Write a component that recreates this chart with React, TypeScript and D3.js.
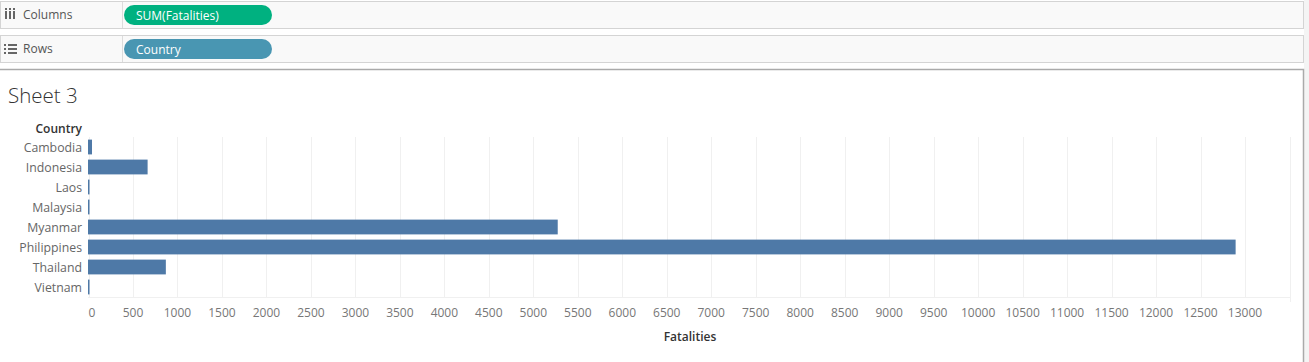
import React from 'react';
import * as d3 from 'd3';

// Data
const countries = ['Cambodia', 'Indonesia', 'Laos', 'Malaysia', 'Myanmar', 'Philippines', 'Thailand', 'Vietnam'];
const fatalities = [45, 670, 10, 6, 5280, 12900, 875, 8];
const xTicks = d3.range(0, 13001, 500);

const BAR = '#4e79a7';
const GRID = '#f0f0f0';

const App = () => {
  const ref = React.useRef<SVGSVGElement>(null);

  React.useEffect(() => {
    const height = 362;
    const svg = d3.select(ref.current);
    svg.selectAll('*').remove();

    const font = '"Open Sans", "Noto Sans", sans-serif';

    // Shelves at the top
    const shelves = [
      { y: 1, label: 'Columns', pill: 'SUM(Fatalities)', color: '#00b180', icon: 'cols' },
      { y: 35, label: 'Rows', pill: 'Country', color: '#4996b2', icon: 'rows' },
    ];
    const shelf = svg.append('g').selectAll('g').data(shelves).join('g')
      .attr('transform', d => `translate(0,${d.y})`);
    shelf.append('rect')
      .attr('x', 0.5).attr('y', 0.5).attr('width', 1303).attr('height', 27)
      .attr('fill', '#f9f9f9').attr('stroke', '#d4d4d4');
    shelf.append('line')
      .attr('x1', 122.5).attr('x2', 122.5).attr('y1', 1).attr('y2', 27)
      .attr('stroke', '#dcdcdc');
    shelf.append('text')
      .attr('x', 23).attr('y', 18)
      .attr('font-family', font).attr('font-size', 12).attr('fill', '#555')
      .text(d => d.label);
    shelf.append('rect')
      .attr('x', 124).attr('y', 4).attr('width', 148).attr('height', 20).attr('rx', 10)
      .attr('fill', d => d.color);
    shelf.append('text')
      .attr('x', 136).attr('y', 18.5)
      .attr('font-family', font).attr('font-size', 12).attr('fill', '#fff')
      .text(d => d.pill);
    // icons
    const colsIcon = shelf.filter(d => d.icon === 'cols');
    colsIcon.selectAll('rect.ic').data([0, 1, 2]).join('rect')
      .attr('class', 'ic')
      .attr('x', i => 5 + i * 4).attr('y', 10).attr('width', 2).attr('height', 8)
      .attr('fill', '#666');
    colsIcon.selectAll('rect.dot').data([0, 1, 2]).join('rect')
      .attr('class', 'dot')
      .attr('x', i => 5 + i * 4).attr('y', 7).attr('width', 2).attr('height', 2)
      .attr('fill', '#666');
    const rowsIcon = shelf.filter(d => d.icon === 'rows');
    rowsIcon.selectAll('rect.b').data([0, 1, 2]).join('rect')
      .attr('class', 'b')
      .attr('x', 4).attr('y', i => 9 + i * 4).attr('width', 2).attr('height', 2).attr('fill', '#666');
    rowsIcon.selectAll('rect.l').data([0, 1, 2]).join('rect')
      .attr('class', 'l')
      .attr('x', 8).attr('y', i => 9 + i * 4).attr('width', 9).attr('height', 2).attr('fill', '#666');

    // Right gutter and main panel
    svg.append('rect').attr('x', 1304).attr('y', 0).attr('width', 5).attr('height', height).attr('fill', '#f4f4f4');
    svg.append('path')
      .attr('d', 'M0,69.5 H1303.5 V362')
      .attr('fill', 'none').attr('stroke', '#aaa').attr('stroke-width', 1.5);

    svg.append('text')
      .attr('x', 8).attr('y', 103)
      .attr('font-family', font).attr('font-size', 20.5).attr('font-weight', 300).attr('fill', '#333')
      .text('Sheet 3');

    // Scales
    const x = d3.scaleLinear().domain([0, 13500]).range([88.5, 1289.5]);
    const y = d3.scaleBand().domain(countries).range([137, 297]).paddingInner(0.26).paddingOuter(0.13);

    // Grid
    svg.append('g').selectAll('line').data(d3.range(0, 13501, 500)).join('line')
      .attr('x1', d => Math.round(x(d)) + 0.5).attr('x2', d => Math.round(x(d)) + 0.5)
      .attr('y1', 137).attr('y2', d => d === 13500 ? 302 : 297)
      .attr('stroke', GRID);
    svg.append('line')
      .attr('x1', 88).attr('x2', 1290).attr('y1', 297.5).attr('y2', 297.5)
      .attr('stroke', GRID);

    // Bars
    svg.append('g').selectAll('rect').data(countries).join('rect')
      .attr('x', x(0) - 0.5)
      .attr('y', d => y(d)!)
      .attr('width', (d, i) => Math.max(1.5, x(fatalities[i]) - x(0)))
      .attr('height', y.bandwidth())
      .attr('fill', BAR);

    // Row labels
    svg.append('text')
      .attr('x', 82).attr('y', 133).attr('text-anchor', 'end')
      .attr('font-family', font).attr('font-size', 12).attr('font-weight', 600).attr('fill', '#333')
      .text('Country');
    svg.append('g').selectAll('text').data(countries).join('text')
      .attr('x', 82).attr('y', d => y(d)! + y.bandwidth() / 2 + 5)
      .attr('text-anchor', 'end')
      .attr('font-family', font).attr('font-size', 12.3).attr('fill', '#666')
      .text(d => d);

    // X tick labels
    svg.append('g').selectAll('text').data(xTicks).join('text')
      .attr('x', d => d === 0 ? x(0) + 3.5 : x(d))
      .attr('y', 317)
      .attr('text-anchor', 'middle')
      .attr('font-family', font).attr('font-size', 12).attr('fill', '#777')
      .text(d => String(d));

    svg.append('text')
      .attr('x', 690).attr('y', 341).attr('text-anchor', 'middle')
      .attr('font-family', font).attr('font-size', 12).attr('font-weight', 600).attr('fill', '#333')
      .text('Fatalities');
  }, []);

  return (
    <svg
      ref={ref}
      width={1309}
      height={362}
      style={{ position: 'fixed', left: 0, top: 0, background: '#fff', display: 'block' }}
    />
  );
};

export default App;
